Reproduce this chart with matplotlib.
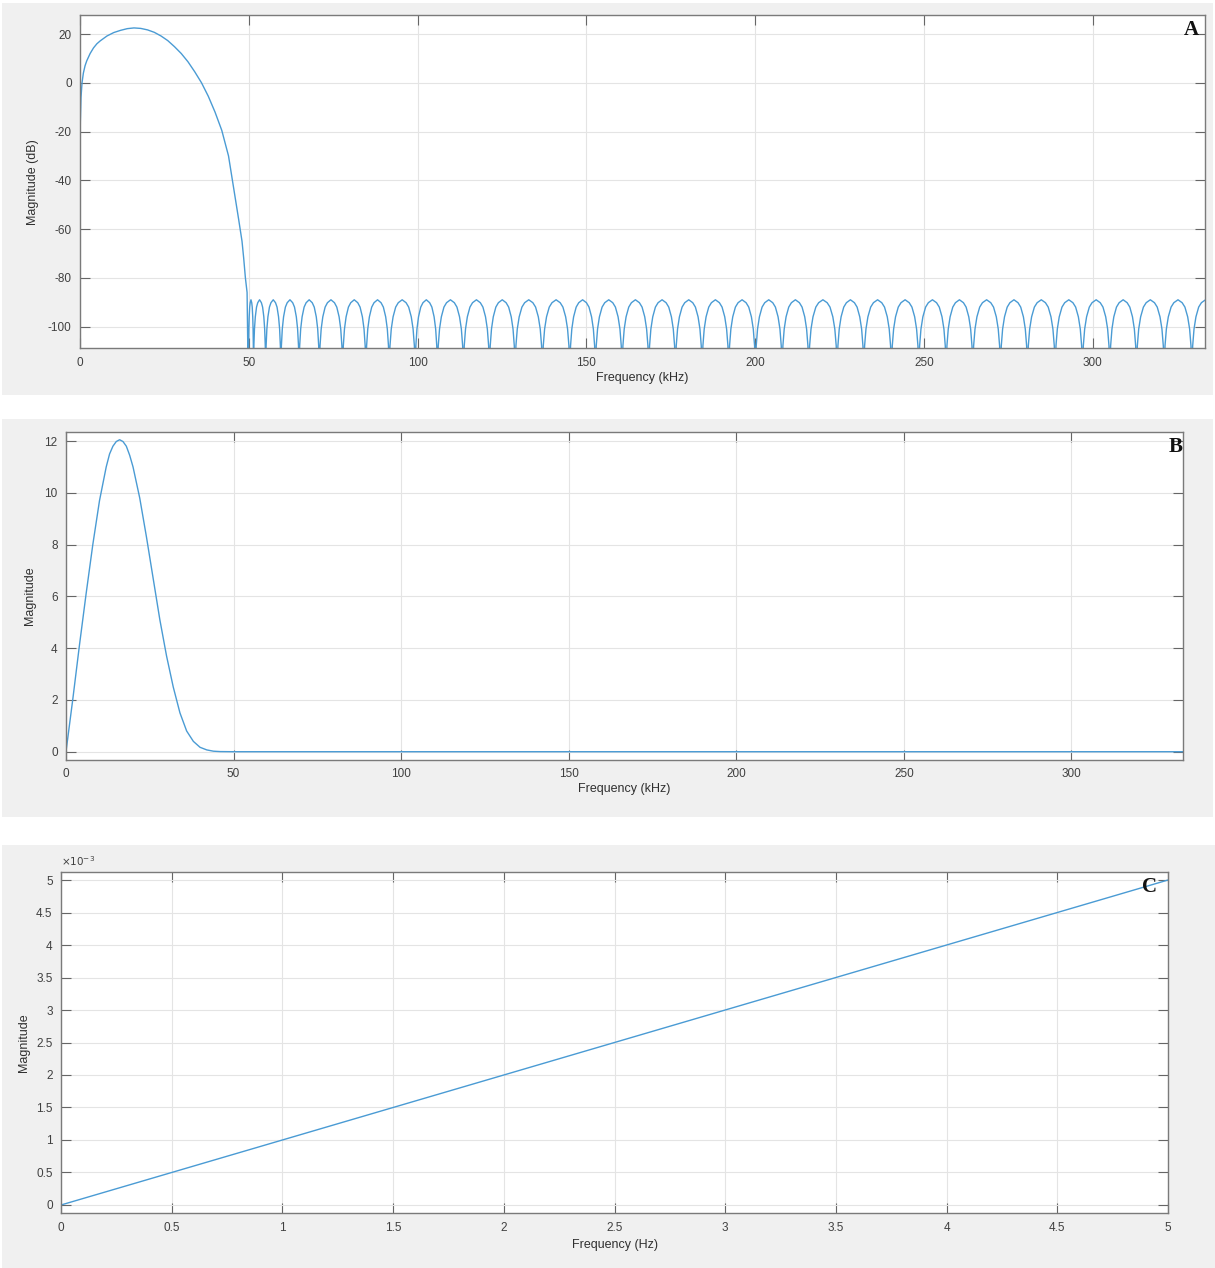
import numpy as np
import matplotlib
matplotlib.use("Agg")
import matplotlib.pyplot as plt
from matplotlib.patches import Rectangle

# ---- panel A: magnitude in dB, main lobe
a_main_f = [0.0, 0.1, 0.3, 0.6, 1, 1.5, 2, 3, 4, 5, 6, 8, 10, 12, 14, 16, 18, 20, 22,
            24, 26, 28, 30, 32, 34, 36, 38, 40, 42, 44, 45.5, 47, 48, 48.5, 49, 49.5]
a_main_db = [-28, -16, -6, 0, 4, 7, 9, 12, 14.3, 16, 17.2, 19.2, 20.6, 21.5, 22.2, 22.5,
             22.3, 21.7, 20.7, 19.2, 17.3, 14.8, 12.0, 8.6, 4.5, 0, -5.5, -12, -19.5, -30,
             -43, -56, -65, -72, -80, -86]
# stopband null positions (kHz) and ripple peak level (dB)
a_nulls = [49.9, 51.4, 55.0, 59.5, 64.9, 70.9, 77.8, 84.7, 91.6, 99.3, 105.9, 113.6,
           121.3, 128.9, 137.0, 145.1, 152.7, 160.6, 168.5, 176.4, 184.3, 192.2, 200.1,
           208.0, 215.9, 224.3, 232.2, 240.4, 248.5, 256.6, 264.5, 272.7, 280.7, 288.9,
           297.0, 305.1, 313.0, 321.2, 329.4, 337.5]
a_ripple_peak = -89
# shape of one stopband lobe: position across the lobe, dB below the ripple peak
lobe_t = [0, 0.03, 0.08, 0.15, 0.25, 0.35, 0.5, 0.65, 0.75, 0.85, 0.92, 0.97, 1]
lobe_db = [-40, -19, -12, -7, -3, -1.2, 0, -1.2, -3, -7, -12, -19, -40]

# ---- panel B: linear magnitude
b_f = [0, 2, 4, 6, 8, 10, 12, 13, 14, 15, 16, 17, 18, 19, 20, 22, 24, 26, 28, 30, 32,
       34, 36, 38, 40, 42, 44, 46, 50, 333.3]
b_mag = [0, 2.0, 4.1, 6.1, 8.0, 9.7, 11.0, 11.5, 11.8, 11.98, 12.05, 11.98, 11.8, 11.45,
         11.0, 9.8, 8.3, 6.7, 5.1, 3.7, 2.5, 1.5, 0.8, 0.4, 0.17, 0.07, 0.02, 0.005, 0, 0]

# ---- panel C: low-frequency zoom (Hz)
c_f = [0, 1, 2, 3, 4, 5]
c_mag = [0, 0.001, 0.002, 0.003, 0.004, 0.005]
c_yticks = [0, 0.5e-3, 1e-3, 1.5e-3, 2e-3, 2.5e-3, 3e-3, 3.5e-3, 4e-3, 4.5e-3, 5e-3]
c_ylabels = ["0", "0.5", "1", "1.5", "2", "2.5", "3", "3.5", "4", "4.5", "5"]

LINE = "#4a9bd4"
BG = "#f0f0f0"
TXT = "#404040"
plt.rcParams["font.family"] = ["Liberation Sans", "DejaVu Sans"]
plt.rcParams["axes.unicode_minus"] = False

# stopband built from null list + lobe profile
sb_f, sb_db = [], []
for lo, hi in zip(a_nulls[:-1], a_nulls[1:]):
    for t, d in zip(lobe_t, lobe_db):
        sb_f.append(lo + t * (hi - lo))
        sb_db.append(a_ripple_peak + d)
a_f = a_main_f + sb_f
a_db = a_main_db + sb_db

W, H = 1215, 1268
fig = plt.figure(figsize=(W / 100, H / 100), dpi=100)

def px_rect(x0, y0, x1, y1):
    return [x0 / W, 1 - y1 / H, (x1 - x0) / W, (y1 - y0) / H]

for (x0, y0, x1, y1) in [(2, 3, 1213, 395), (2, 419, 1213, 817), (2, 845, 1215, 1268)]:
    r = px_rect(x0, y0, x1, y1)
    fig.patches.append(Rectangle((r[0], r[1]), r[2], r[3], transform=fig.transFigure,
                                 facecolor=BG, edgecolor="none", zorder=-5))


def style(ax, xlabel, ylabel, xlab_y, ylab_x):
    ax.set_facecolor("white")
    ax.grid(True, color="#e4e4e4", lw=0.8)
    ax.set_axisbelow(True)
    for s in ax.spines.values():
        s.set_color("#7a7a7a")
        s.set_linewidth(1.0)
    ax.tick_params(direction="in", top=True, right=True, length=7, width=0.8,
                   color="#666666", labelsize=8.5, labelcolor=TXT, pad=6)
    ax.set_xlabel(xlabel, fontsize=9, color="#303030", va="center")
    ax.set_ylabel(ylabel, fontsize=9, color="#303030", va="center")
    ax.xaxis.set_label_coords(0.5, xlab_y)
    ax.yaxis.set_label_coords(ylab_x, 0.5)


# panel A
axA = fig.add_axes(px_rect(80, 15, 1205, 348.3))
axA.plot(a_f, a_db, color=LINE, lw=1.0)
axA.set_xlim(0, 333.3)
axA.set_ylim(-108.9, 27.8)
axA.set_xticks(np.arange(0, 301, 50))
axA.set_yticks(np.arange(-100, 21, 20))
style(axA, "Frequency (kHz)", "Magnitude (dB)", -0.089, -0.042)
axA.text(0.995, 0.985, "A", transform=axA.transAxes, ha="right", va="top",
         family="Liberation Serif", fontweight="bold", fontsize=15, color="#111111")

# panel B
axB = fig.add_axes(px_rect(66, 431.7, 1183, 760))
axB.plot(b_f, b_mag, color=LINE, lw=1.0)
axB.set_xlim(0, 333.3)
axB.set_ylim(-0.32, 12.36)
axB.set_xticks(np.arange(0, 301, 50))
axB.set_yticks(np.arange(0, 13, 2))
style(axB, "Frequency (kHz)", "Magnitude", -0.088, -0.032)
axB.text(0.9995, 0.985, "B", transform=axB.transAxes, ha="right", va="top",
         family="Liberation Serif", fontweight="bold", fontsize=15, color="#111111")

# panel C
axC = fig.add_axes(px_rect(61, 871.7, 1168, 1213.3))
axC.plot(c_f, c_mag, color=LINE, lw=1.0)
axC.set_xlim(0, 5)
axC.set_ylim(-0.128e-3, 5.128e-3)
axC.set_xticks(np.arange(0, 5.01, 0.5))
axC.set_xticklabels(["0", "0.5", "1", "1.5", "2", "2.5", "3", "3.5", "4", "4.5", "5"])
axC.set_yticks(c_yticks)
axC.set_yticklabels(c_ylabels)
style(axC, "Frequency (Hz)", "Magnitude", -0.093, -0.0334)
axC.text(0.0, 1.012, r"$\times10^{-3}$", transform=axC.transAxes, ha="left", va="bottom",
         fontsize=7.5, color=TXT)
axC.text(0.99, 0.985, "C", transform=axC.transAxes, ha="right", va="top",
         family="Liberation Serif", fontweight="bold", fontsize=15, color="#111111")

fig.savefig("out.png", dpi=100, facecolor="white")
